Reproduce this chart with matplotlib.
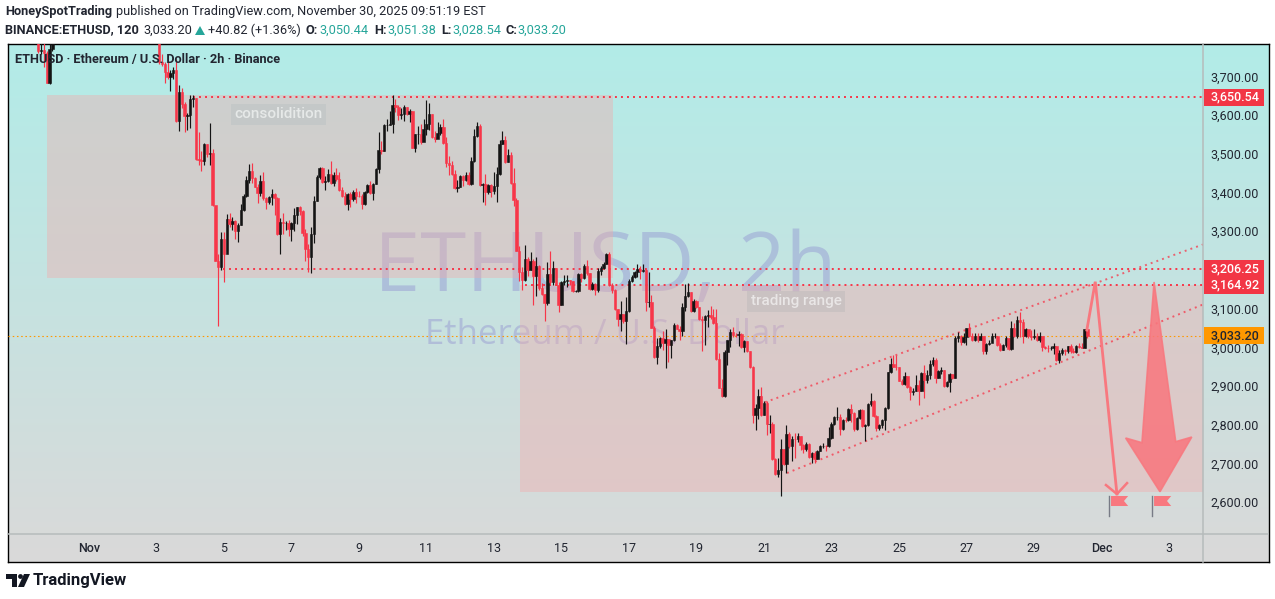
import matplotlib
matplotlib.use('Agg')
import matplotlib.pyplot as plt
from matplotlib.patches import Polygon, Rectangle
from matplotlib.transforms import ScaledTranslation
import numpy as np

nan = float('nan')

# 2h bars, bar 0 = Oct 30 12:00, bars 6..41 run above the top of the chart
early_closes = [3770, 3772, 3765, 3688, 3775, 3820]
early_highs = [3800, 3790, 3790, 3770, 3790, 3840]
early_lows = [3765, 3762, 3729, 3686, 3684, 3770]
hidden_bars = 36

closes = early_closes + [nan] * hidden_bars + [3800,
    3740, 3737, 3715, 3702, 3712, 3720, 3588, 3664, 3632, 3602,
    3605, 3645, 3647, 3490, 3488, 3486, 3528, 3503, 3505, 3372,
    3228, 3212, 3285, 3245, 3335, 3322, 3331, 3305, 3320, 3358,
    3396, 3436, 3459, 3441, 3419, 3402, 3433, 3389, 3380, 3392,
    3400, 3389, 3297, 3328, 3324, 3325, 3310, 3324, 3346, 3366,
    3357, 3300, 3258, 3238, 3297, 3383, 3443, 3467, 3431, 3434,
    3453, 3429, 3449, 3439, 3410, 3395, 3374, 3400, 3387, 3405,
    3396, 3394, 3374, 3405, 3423, 3402, 3427, 3464, 3515, 3511,
    3578, 3579, 3580, 3630, 3626, 3604, 3608, 3624, 3607, 3614,
    3520, 3554, 3556, 3535, 3567, 3581, 3607, 3548, 3542, 3557,
    3572, 3531, 3479, 3476, 3453, 3415, 3417, 3446, 3436, 3449,
    3426, 3485, 3550, 3576, 3423, 3426, 3406, 3423, 3409, 3420,
    3453, 3529, 3540, 3484, 3500, 3429, 3384, 3254, 3199, 3178,
    3232, 3204, 3227, 3188, 3214, 3156, 3142, 3118, 3193, 3173,
    3208, 3166, 3113, 3173, 3175, 3177, 3174, 3150, 3150, 3193,
    3182, 3215, 3195, 3154, 3167, 3152, 3201, 3208, 3219, 3245,
    3165, 3152, 3102, 3077, 3089, 3072, 3098, 3174, 3186, 3198,
    3205, 3200, 3204, 3120, 3122, 3055, 2978, 3007, 3029, 3016,
    3025, 3010, 3022, 3061, 3051, 3046, 3109, 3136, 3147, 3098,
    3124, 3107, 3077, 3075, 3086, 3088, 3081, 3067, 2973, 2900,
    2878, 2991, 3023, 3044, 3036, 3035, 3037, 3004, 3021, 2994,
    2952, 2829, 2846, 2878, 2829, 2859, 2805, 2806, 2715, 2677,
    2687, 2740, 2702, 2780, 2749, 2767, 2766, 2774, 2751, 2741,
    2755, 2721, 2732, 2714, 2737, 2749, 2750, 2748, 2769, 2807,
    2823, 2825, 2793, 2816, 2815, 2844, 2835, 2793, 2820, 2842,
    2800, 2803, 2857, 2865, 2826, 2796, 2803, 2816, 2846, 2939,
    2961, 2954, 2952, 2918, 2909, 2930, 2902, 2889, 2890, 2906,
    2892, 2938, 2919, 2932, 2960, 2971, 2925, 2942, 2945, 2904,
    2913, 2935, 2925, 3029, 3032, 3018, 3031, 3053, 3033, 3023,
    3033, 3024, 3033, 2994, 3012, 3016, 3033, 3033.5, 3010, 2997,
    3010, 3029, 3000, 3053, 3033, 3074, 3070, 3033, 3051, 3033,
    3031, 3032, 3023, 3033, 3005, 3003, 3002, 3002, 3007, 2971,
    2988, 2996, 2994, 3007, 2995, 2993, 3007, 3005, 3003, 3050.44, 3033.20]

highs = early_highs + [nan] * hidden_bars + [3810,
    3790, 3763, 3740, 3740, 3720, 3729, 3748, 3682, 3673, 3637,
    3610, 3655, 3655, 3647, 3560, 3512, 3531, 3530, 3583, 3516,
    3367, 3246, 3303, 3301, 3348, 3351, 3340, 3333, 3325, 3374,
    3399, 3446, 3477, 3479, 3443, 3425, 3449, 3456, 3392, 3394,
    3413, 3402, 3392, 3337, 3350, 3330, 3333, 3328, 3363, 3367,
    3369, 3358, 3310, 3272, 3316, 3395, 3449, 3471, 3470, 3446,
    3464, 3485, 3458, 3466, 3456, 3419, 3406, 3402, 3405, 3410,
    3415, 3408, 3400, 3408, 3426, 3434, 3428, 3467, 3560, 3537,
    3582, 3595, 3614, 3656, 3645, 3630, 3623, 3630, 3626, 3619,
    3614, 3556, 3575, 3582, 3595, 3643, 3634, 3607, 3563, 3585,
    3582, 3594, 3548, 3498, 3485, 3462, 3436, 3449, 3449, 3456,
    3458, 3496, 3568, 3585, 3580, 3428, 3452, 3426, 3426, 3456,
    3469, 3540, 3563, 3550, 3516, 3508, 3467, 3390, 3265, 3212,
    3269, 3238, 3249, 3232, 3238, 3217, 3170, 3141, 3225, 3253,
    3228, 3210, 3172, 3176, 3192, 3190, 3178, 3176, 3152, 3196,
    3195, 3218, 3230, 3196, 3172, 3170, 3208, 3215, 3225, 3247,
    3249, 3170, 3154, 3102, 3123, 3091, 3135, 3180, 3190, 3200,
    3220, 3214, 3219, 3205, 3199, 3139, 3060, 3027, 3031, 3046,
    3050, 3025, 3023, 3066, 3063, 3060, 3119, 3167, 3169, 3147,
    3130, 3126, 3107, 3085, 3088, 3100, 3110, 3104, 3102, 2990,
    2921, 2998, 3024, 3050, 3056, 3040, 3045, 3040, 3024, 3020,
    2995, 2955, 2857, 2896, 2902, 2865, 2866, 2829, 2811, 2717,
    2719, 2767, 2740, 2803, 2785, 2776, 2782, 2782, 2775, 2753,
    2760, 2757, 2733, 2736, 2739, 2752, 2757, 2752, 2797, 2812,
    2826, 2850, 2831, 2819, 2823, 2846, 2857, 2838, 2823, 2844,
    2845, 2806, 2860, 2887, 2868, 2829, 2807, 2818, 2850, 2941,
    2977, 2984, 2984, 2952, 2921, 2941, 2930, 2904, 2900, 2932,
    2919, 2941, 2958, 2945, 2972, 2980, 2977, 2945, 2954, 2946,
    2916, 2937, 2936, 3032, 3044, 3036, 3040, 3055, 3068, 3040,
    3040, 3042, 3040, 3034, 3014, 3024, 3042, 3042, 3034, 3014,
    3012, 3032, 3029, 3072, 3066, 3085, 3094, 3076, 3054, 3047,
    3048, 3051, 3040, 3044, 3034, 3008, 3010, 3006, 3016, 3008,
    2998, 3002, 3000, 3008, 3013, 3003, 3010, 3016, 3016, 3051.38, 3051.38]

lows = early_lows + [nan] * hidden_bars + [3790,
    3735, 3732, 3688, 3697, 3665, 3697, 3585, 3563, 3621, 3561,
    3565, 3570, 3625, 3487, 3475, 3460, 3475, 3495, 3476, 3370,
    3226, 3059, 3203, 3172, 3252, 3314, 3307, 3284, 3277, 3320,
    3356, 3393, 3429, 3428, 3417, 3378, 3395, 3384, 3361, 3374,
    3371, 3346, 3295, 3245, 3297, 3307, 3292, 3279, 3305, 3322,
    3345, 3291, 3227, 3199, 3197, 3274, 3381, 3440, 3429, 3410,
    3430, 3427, 3421, 3434, 3408, 3393, 3372, 3358, 3367, 3383,
    3376, 3392, 3361, 3372, 3402, 3400, 3385, 3425, 3455, 3503,
    3510, 3564, 3578, 3558, 3613, 3591, 3595, 3589, 3604, 3587,
    3518, 3509, 3530, 3530, 3538, 3552, 3565, 3546, 3535, 3545,
    3552, 3528, 3470, 3449, 3450, 3412, 3406, 3417, 3420, 3434,
    3424, 3424, 3483, 3548, 3420, 3380, 3371, 3400, 3393, 3400,
    3380, 3450, 3528, 3480, 3482, 3427, 3370, 3252, 3176, 3152,
    3176, 3188, 3203, 3113, 3137, 3152, 3140, 3072, 3112, 3167,
    3166, 3165, 3096, 3112, 3165, 3160, 3165, 3148, 3148, 3148,
    3172, 3180, 3190, 3152, 3151, 3140, 3148, 3190, 3205, 3218,
    3163, 3145, 3100, 3060, 3046, 3068, 3012, 3095, 3172, 3184,
    3186, 3180, 3198, 3098, 3109, 3055, 2976, 2961, 3001, 2998,
    2951, 2967, 2975, 3020, 3050, 3024, 3034, 3099, 3134, 3096,
    3096, 3105, 3075, 2994, 3010, 3057, 3078, 3064, 2971, 2898,
    2875, 2875, 2958, 3004, 3030, 3030, 3007, 3002, 2993, 2992,
    2950, 2808, 2790, 2819, 2827, 2830, 2777, 2782, 2713, 2675,
    2668, 2620, 2700, 2680, 2745, 2711, 2717, 2758, 2738, 2730,
    2736, 2719, 2704, 2706, 2715, 2735, 2743, 2736, 2746, 2767,
    2802, 2817, 2777, 2791, 2812, 2813, 2812, 2787, 2791, 2818,
    2798, 2762, 2801, 2853, 2824, 2788, 2791, 2795, 2790, 2845,
    2938, 2952, 2944, 2916, 2907, 2907, 2900, 2868, 2881, 2890,
    2855, 2892, 2872, 2911, 2923, 2955, 2912, 2925, 2935, 2902,
    2902, 2889, 2923, 2925, 3018, 3010, 3014, 3010, 3031, 3020,
    3020, 3018, 3022, 2986, 2986, 3010, 3018, 3028, 3008, 2995,
    2996, 3004, 2998, 2998, 3030, 3028, 3031, 3016, 3030, 3028,
    3023, 3026, 3020, 3018, 2995, 3000, 2992, 2996, 2987, 2969,
    2964, 2985, 2984, 2988, 2990, 2990, 2990, 3002, 3002, 3001, 3028.54]

first_open = 3790

# 3,200.00 sits under the 3,206.25 tag in the chart, so it is left out
y_ticks = [3700, 3600, 3500, 3400, 3300, 3100, 3000, 2900, 2800, 2700, 2600]
x_tick_labels = ['Nov', '3', '5', '7', '9', '11', '13', '15', '17', '19', '21',
                 '23', '25', '27', '29', 'Dec', '3']
first_tick_bar = 18
bars_per_tick = 24

resistance_top = 3650.54
resistance_mid = 3206.25
resistance_low = 3164.92
last_price = 3033.20

BLACK = '#141414'
RED = '#f73649'
ARROW = '#f8787f'
TEXT = '#222631'
TEAL = '#26a69a'

plt.rcParams['font.family'] = ['Roboto', 'DejaVu Sans']

W, H = 1275, 599
fig = plt.figure(figsize=(W / 100, H / 100), dpi=100, facecolor='white')


def box(x0, y0, x1, y1):
    # pixel box (top-left origin) to figure fraction
    return [x0 / W, 1 - y1 / H, (x1 - x0) / W, (y1 - y0) / H]


# gradient behind everything
bg = fig.add_axes(box(7.5, 43.5, 1268.5, 562), zorder=0)
top_col = np.array([178, 236, 232]) / 255
bot_col = np.array([218, 217, 217]) / 255
ramp = np.linspace(0, 1, 256)[:, None, None]
bg.imshow(top_col + (bot_col - top_col) * ramp, aspect='auto', extent=(0, 1, 0, 1))
bg.set_xticks([])
bg.set_yticks([])
for s in bg.spines.values():
    s.set_color('black')
    s.set_linewidth(1.0)

ax = fig.add_axes(box(8, 44, 1203, 534), zorder=1)
ax.patch.set_alpha(0)
ax.set_xlim(-10.77, 414.1)
ax.set_ylim(3206.25 - (534 - 269) * 2.584, 3206.25 + (269 - 44) * 2.584)

# watermark sits below the zones
wm = (127 / 255, 117 / 255, 204 / 255)
ax.text(201.5, 3205, 'ETHUSD, 2h', color=wm, alpha=0.32, fontsize=60, ha='center',
        va='center', zorder=1, family='Open Sans')
ax.text(201.5, 3035, 'Ethereum / U.S. Dollar', color=wm, alpha=0.32, fontsize=25,
        ha='center', va='center', zorder=1, family='Open Sans')

zone = (243 / 255, 170 / 255, 170 / 255)
ax.add_patch(Rectangle((3.1, 3183), 201.3, 473, color=zone, alpha=0.4, lw=0, zorder=2))
ax.add_patch(Rectangle((171.3, 2630), 243, resistance_low - 2630, color=zone, alpha=0.4, lw=0, zorder=2))

ax.text(85.5, 3606, 'consolidition', color='#e6e9e8', fontsize=11, fontweight='medium', ha='center',
        va='center', zorder=3, bbox=dict(facecolor='#bcc4c4', alpha=0.55, edgecolor='none', pad=2.5))
ax.text(269.5, 3123, 'trading range', color='#e9e6e6', fontsize=11, fontweight='medium', ha='center',
        va='center', zorder=3, bbox=dict(facecolor='#c0bcbc', alpha=0.55, edgecolor='none', pad=2.5))

# horizontal levels
dots = (0, (1, 2.1))
ax.plot([55, 414.1], [resistance_top] * 2, color=RED, lw=1.4, ls=dots, zorder=4)
ax.plot([65.5, 414.1], [resistance_mid] * 2, color=RED, lw=1.4, ls=dots, zorder=4)
ax.plot([173, 414.1], [resistance_low] * 2, color=RED, lw=1.4, ls=dots, zorder=4)
ax.plot([-10.77, 414.1], [last_price] * 2, color='#ff9800', lw=0.8, ls=(0, (1.4, 2.4)), zorder=4)

# rising channel
ax.plot([258.4, 414.1], [2862, 3269.6], color=RED, alpha=0.75, lw=1.4, ls=dots, zorder=4)
ax.plot([266.2, 414.1], [2679, 3114.5], color=RED, alpha=0.75, lw=1.4, ls=dots, zorder=4)

# candles
c = np.array(closes, dtype=float)
h = np.array(highs, dtype=float)
l = np.array(lows, dtype=float)
o = np.concatenate([[first_open], c[:-1]])
bars = np.arange(len(c))
up = c >= o
colors = [BLACK if u else RED for u in up]
ax.vlines(bars, l, h, colors=colors, lw=0.85, zorder=5)
ax.bar(bars, np.abs(c - o), bottom=np.minimum(o, c), width=0.85, color=colors,
       edgecolor=colors, linewidth=0.4, zorder=6)

# drawn arrows
ax.plot([372.8, 375.8, 383.5], [3048.6, 3173.4, 2624.8], color=ARROW, lw=2, zorder=7,
        solid_joinstyle='miter')
ax.plot([379.6, 383.5, 387.1], [2648, 2624.8, 2653], color=ARROW, lw=1.8, zorder=7)
big_x = [396.7, 404.4, 410.1, 398.8, 386.6, 392.4]
big_y = [3172.7, 2760, 2772, 2630.8, 2769.5, 2757.4]
ax.add_patch(Polygon(np.column_stack([big_x, big_y]), closed=True, facecolor=ARROW,
                     edgecolor=ARROW, alpha=0.88, lw=1.2, zorder=7))

# flags
for pole in [380.8, 396.1]:
    ax.plot([pole, pole], [2568.8, 2619.7], color='#787b86', lw=1, zorder=7)
    ax.add_patch(Polygon([(pole + 0.6, 2619.7), (pole + 6.7, 2619.7), (pole + 5.2, 2606.8),
                          (pole + 6.7, 2593.8), (pole + 0.6, 2593.8)], closed=True,
                         facecolor=ARROW, edgecolor='none', zorder=7))

# axes
for name in ax.spines:
    ax.spines[name].set_visible(False)
ax.yaxis.tick_right()
ax.set_yticks(y_ticks)
ax.set_yticklabels([f'{v:,.2f}' for v in y_ticks])
ax.tick_params(axis='y', length=0, pad=5.5, labelsize=9, labelcolor=TEXT)
ax.set_xticks([first_tick_bar + bars_per_tick * i for i in range(len(x_tick_labels))])
ax.set_xticklabels(x_tick_labels)
ax.tick_params(axis='x', length=0, pad=6, labelsize=9, labelcolor=TEXT)
for lab in ax.get_xticklabels():
    if lab.get_text() in ('Nov', 'Dec'):
        lab.set_fontweight('medium')
up_2px = ScaledTranslation(0, 1.5 / 100, fig.dpi_scale_trans)
for lab in ax.get_yticklabels():
    lab.set_transform(lab.get_transform() + up_2px)

# price tags on the scale
yax = ax.get_yaxis_transform()
for price, label, fill, col in [
    (resistance_top, '3,650.54', '#f23645', 'white'),
    (resistance_mid, '3,206.25', '#f23645', 'white'),
    (resistance_low, '3,164.92', '#f23645', 'white'),
    (last_price, '3,033.20', '#ff9800', TEXT),
]:
    ax.add_patch(Rectangle((1.0012, price - 22), 0.0495, 44, transform=yax, facecolor=fill,
                           edgecolor='none', clip_on=False, zorder=8))
    ax.text(1.0067, price, label, transform=yax, color=col, fontsize=9, fontweight='medium',
            va='center', ha='left', clip_on=False, zorder=9)

# header, chart legend and logo in pixel coordinates
top = fig.add_axes([0, 0, 1, 1], zorder=3)
top.set_xlim(0, W)
top.set_ylim(H, 0)
top.axis('off')

# scale dividers run on to the outer frame
top.plot([1203, 1203], [44, 561.5], color='#b6bbbb', lw=1.1)
top.plot([8, 1268], [534, 534], color='#b6bbbb', lw=1.1)

top.text(5, 12, 'HoneySpotTrading', fontsize=9.2, fontweight='bold', color=TEXT, va='center')
top.text(116, 12, 'published on TradingView.com, November 30, 2025 09:51:19 EST', fontsize=9.2,
         color=TEXT, va='center')
row = [(5, 'BINANCE:ETHUSD, 120', TEXT, 'bold'), (143, '3,033.20', TEXT, 'normal'),
       (208, '+40.82 (+1.36%)', TEXT, 'normal'), (306, 'O:', TEXT, 'bold'),
       (319, '3,050.44', TEAL, 'normal'), (374, 'H:', TEXT, 'bold'), (387, '3,051.38', TEAL, 'normal'),
       (441, 'L:', TEXT, 'bold'), (452, '3,028.54', TEAL, 'normal'), (505, 'C:', TEXT, 'bold'),
       (517, '3,033.20', TEAL, 'normal')]
for x, label, col, weight in row:
    top.text(x, 30, label, fontsize=9.2, color=col, fontweight=weight, va='center')
top.add_patch(Polygon([(195, 35), (205, 35), (200, 26)], closed=True, facecolor=TEAL, edgecolor='none'))

top.text(15, 60, 'ETHUSD · Ethereum / U.S. Dollar · 2h · Binance', fontsize=9.2, fontweight='bold',
         color=TEXT, va='center')

top.add_patch(Polygon([(6, 574), (17, 574), (17, 587), (12, 587), (12, 579), (6, 579)], closed=True,
                      facecolor='#131722', edgecolor='none'))
top.add_patch(plt.Circle((20.5, 576.5), 2.4, facecolor='#131722', edgecolor='none'))
top.add_patch(Polygon([(24, 574), (30, 574), (24, 587), (18, 587)], closed=True, facecolor='#131722',
                      edgecolor='none'))
top.text(33, 580, 'TradingView', fontsize=12, fontweight='bold', color='#131722', va='center')

fig.savefig('out.png', dpi=100, facecolor='white')
